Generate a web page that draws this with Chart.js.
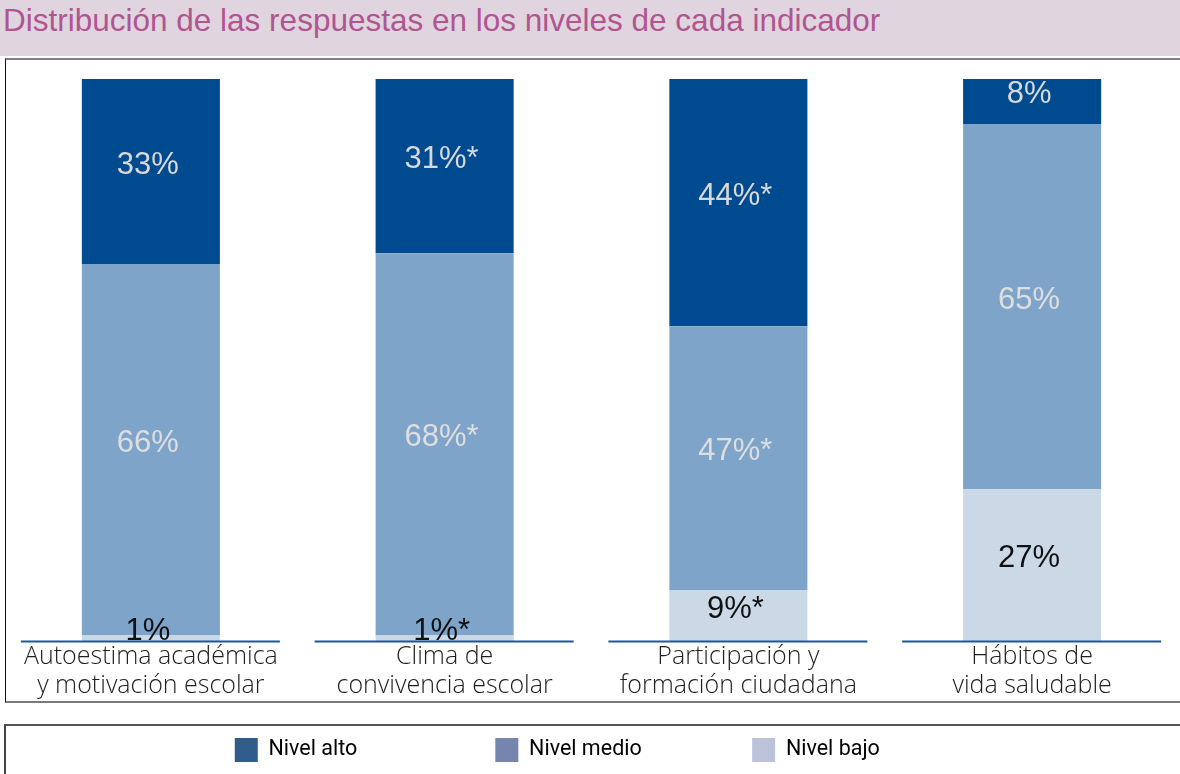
<!DOCTYPE html>
<html>
<head>
<meta charset="utf-8">
<script src="https://cdn.jsdelivr.net/npm/chart.js@4.4.1/dist/chart.umd.min.js"></script>
<style>
  html, body { margin: 0; padding: 0; background: #fff; }
  body { width: 1180px; height: 774px; position: relative; overflow: hidden; }
  #band { position: absolute; left: 0; top: 0; width: 1180px; height: 56px; background: #e0d4de; }
  #title { position: absolute; left: 3px; top: 2px; font: 31.5px "Liberation Sans", Arial, sans-serif; color: #b05592; white-space: nowrap; }
  #box1 { position: absolute; left: 5px; top: 58px; width: 1180px; height: 641px; border-top: 2px solid #808080; border-left: 1px solid #111; border-bottom: 2px solid #7a7a7a; }
  #box2 { position: absolute; left: 4px; top: 724px; width: 1180px; height: 60px; border-top: 2px solid #555; border-left: 2px solid #444; }
  #chart { position: absolute; left: 0; top: 57px; }
</style>
</head>
<body>
<div id="band"></div>
<div id="title">Distribución de las respuestas en los niveles de cada indicador</div>
<div id="box1"></div>
<div id="box2"></div>
<canvas id="chart" width="1180" height="717"></canvas>
<script>
// ---- data ----
const categories = [
  ["Autoestima académica", "y motivación escolar"],
  ["Clima de", "convivencia escolar"],
  ["Participación y", "formación ciudadana"],
  ["Hábitos de", "vida saludable"]
];
const nivelAlto  = [33, 31, 44, 8];
const nivelMedio = [66, 68, 47, 65];
const nivelBajo  = [1, 1, 9, 27];
const significant = [false, true, true, false];   // values marked with *
const seriesNames = ["Nivel alto", "Nivel medio", "Nivel bajo"];

// ---- styles ----
const barColors    = { alto: "#004a8f", medio: "#7fa4c9", bajo: "#cbd9e7" };
const legendColors = ["#315d8c", "#7585ad", "#bcc2d9"];
const labelColors  = { alto: "#d9d9d9", medio: "#dedede", bajo: "#111111" };

const legendFont = { family: "Roboto", size: 21.5, weight: "normal" };
const legendTargets = [217, 214, 163]; // text slot widths for legend spacing

function padLabel(text, target) {
  const c = document.createElement("canvas").getContext("2d");
  c.font = legendFont.weight + " " + legendFont.size + "px " + legendFont.family;
  let t = text;
  while (c.measureText(t + " ").width <= target) t += " ";
  while (c.measureText(t + "\u200A").width <= target) t += "\u200A";
  return t;
}

function labelFor(v, i) { return v + "%" + (significant[i] ? "*" : ""); }

const valueLabels = {
  id: "valueLabels",
  afterDatasetsDraw(chart) {
    const ctx = chart.ctx;
    const x = chart.scales.x, y = chart.scales.y;
    // baseline segments per category
    ctx.save();
    ctx.strokeStyle = "#1d56a0";
    ctx.lineWidth = 2;
    const y0 = Math.round(y.getPixelForValue(0)) + 0.5;
    categories.forEach((c, i) => {
      const cx = x.getPixelForValue(i);
      ctx.beginPath();
      ctx.moveTo(cx - 130, y0);
      ctx.lineTo(cx + 129, y0);
      ctx.stroke();
    });
    ctx.restore();

    ctx.save();
    ctx.font = '31px "Liberation Sans", Arial, sans-serif';
    ctx.textAlign = "center";
    ctx.textBaseline = "alphabetic";
    chart.data.datasets.forEach((ds, di) => {
      const meta = chart.getDatasetMeta(di);
      meta.data.forEach((bar, i) => {
        const mid = (bar.y + bar.base) / 2;
        ctx.fillStyle = ds.labelColor;
        ctx.fillText(labelFor(ds.data[i], i), bar.x - 3, mid + 2);
      });
    });
    ctx.restore();
  }
};

new Chart(document.getElementById("chart"), {
  type: "bar",
  data: {
    labels: categories,
    datasets: [
      { label: seriesNames[2], data: nivelBajo,  backgroundColor: barColors.bajo,  labelColor: labelColors.bajo },
      { label: seriesNames[1], data: nivelMedio, backgroundColor: barColors.medio, labelColor: labelColors.medio },
      { label: seriesNames[0], data: nivelAlto,  backgroundColor: barColors.alto,  labelColor: labelColors.alto }
    ]
  },
  options: {
    responsive: false,
    animation: false,
    devicePixelRatio: 1,
    layout: { padding: { left: 4, right: 1, top: 22, bottom: 2 } },
    datasets: { bar: { categoryPercentage: 1, barPercentage: 0.47, borderWidth: 0 } },
    scales: {
      x: {
        stacked: true,
        grid: { display: false, drawTicks: false },
        border: { display: false },
        ticks: {
          padding: 1,
          autoSkip: false,
          maxRotation: 0,
          color: "#1e1e1e",
          font: { family: "Open Sans", size: 25, weight: 300, lineHeight: "29px" }
        },
        afterFit(scale) { scale.height = 87; }
      },
      y: {
        stacked: true,
        display: false,
        min: 0,
        max: 100
      }
    },
    plugins: {
      tooltip: { enabled: false },
      legend: {
        position: "bottom",
        align: "center",
        labels: {
          boxWidth: 23,
          boxHeight: 24,
          padding: 10,
          color: "#222222",
          font: legendFont,
          generateLabels() {
            return seriesNames.map((n, i) => ({
              text: padLabel(n, legendTargets[i]),
              fillStyle: legendColors[i],
              strokeStyle: legendColors[i],
              lineWidth: 0,
              hidden: false,
              datasetIndex: 2 - i
            }));
          }
        }
      }
    }
  },
  plugins: [valueLabels]
});
</script>
</body>
</html>
